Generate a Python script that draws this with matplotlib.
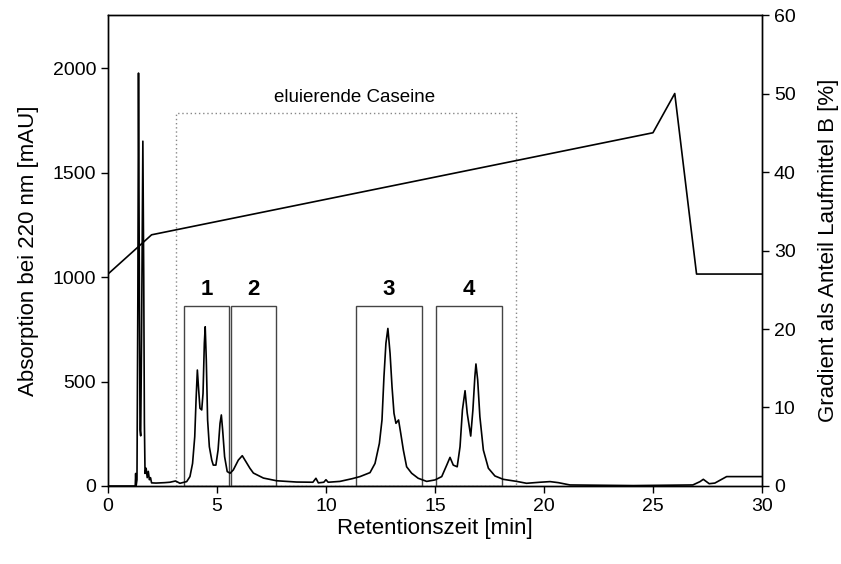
import matplotlib.pyplot as plt
from matplotlib.patches import Rectangle

plt.rcParams['font.family'] = ['Liberation Sans', 'DejaVu Sans']

# Chromatogramm (Zeit in min, Absorption in mAU)
zeit = [0.0, 1.0, 1.25, 1.27, 1.29, 1.33, 1.37, 1.40, 1.43, 1.47, 1.50, 1.54,
        1.60, 1.64, 1.67, 1.70, 1.75, 1.80, 1.85, 1.90, 1.95, 2.00, 2.2, 2.6,
        2.84, 3.1, 3.30, 3.61, 3.76, 3.88, 3.98, 4.04, 4.10, 4.16, 4.22, 4.30,
        4.36, 4.42, 4.46, 4.51, 4.57, 4.65, 4.76, 4.83, 4.95, 5.05, 5.14, 5.20,
        5.26, 5.35, 5.47, 5.60, 5.75, 5.98, 6.16, 6.33, 6.51, 6.67, 7.13, 7.74,
        8.65, 9.4, 9.54, 9.65, 9.9, 10.0, 10.1, 10.64, 11.2, 11.56, 12.02, 12.25,
        12.45, 12.57, 12.66, 12.75, 12.84, 12.94, 13.03, 13.12, 13.21, 13.33,
        13.43, 13.55, 13.70, 13.93, 14.23, 14.62, 15.0, 15.31, 15.54, 15.69,
        15.84, 16.02, 16.15, 16.26, 16.38, 16.48, 16.64, 16.74, 16.83, 16.88,
        16.96, 17.06, 17.22, 17.45, 17.75, 18.13, 18.75, 19.2, 19.82, 20.28,
        20.66, 21.19, 24.1, 26.83, 27.16, 27.31, 27.58, 27.84, 28.38, 30.0]
absorption = [0, 0, 0, 60, 0, 30, 900, 1976, 1200, 270, 240, 700,
              1650, 1000, 300, 60, 85, 40, 70, 30, 40, 15, 14, 16,
              18, 24, 13, 21, 45, 108, 236, 411, 555, 459, 372, 364,
              443, 683, 762, 603, 316, 188, 124, 100, 100, 172, 300, 340,
              268, 140, 69, 61, 77, 124, 145, 116, 85, 62, 38, 25,
              19, 18, 37, 15, 18, 30, 18, 22, 35, 45, 64, 108,
              204, 316, 523, 683, 754, 635, 475, 348, 300, 316,
              252, 172, 92, 61, 37, 22, 29, 45, 100, 137,
              100, 92, 188, 364, 456, 348, 239, 364, 523, 584,
              507, 332, 172, 85, 48, 32, 22, 13, 18, 21,
              16, 5, 2, 5, 21, 32, 11, 14, 45, 45]

# Gradient (Anteil Laufmittel B in %)
grad_zeit = [0, 2, 25, 26, 27, 30]
grad_b = [27, 32, 45, 50, 27, 27]

# Fraktionen 1-4 (Start, Ende in min)
frak_namen = ['1', '2', '3', '4']
frak_start = [3.49, 5.64, 11.36, 15.05]
frak_ende = [5.54, 7.69, 14.39, 18.09]
frak_hoehe = 861

# Bereich eluierende Caseine
casein_start, casein_ende, casein_hoehe = 3.1, 18.72, 1783

fig = plt.figure(figsize=(8.41, 5.64), dpi=100)
ax = fig.add_axes([0.1284, 0.1383, 0.7776, 0.8351])
ax2 = ax.twinx()

ax.plot(zeit, absorption, color='black', lw=1.2)
ax2.plot(grad_zeit, grad_b, color='black', lw=1.2)

for name, s, e in zip(frak_namen, frak_start, frak_ende):
    ax.add_patch(Rectangle((s, 0), e - s, frak_hoehe, fill=False,
                           edgecolor='#444444', lw=1.0))
    ax.text((s + e) / 2, frak_hoehe + 30, name, ha='center', va='bottom',
            fontsize=16, fontweight='bold')

ax.add_patch(Rectangle((casein_start, 0), casein_ende - casein_start, casein_hoehe,
                       fill=False, edgecolor='#888888', lw=1.0, ls=(0, (1, 2))))
ax.text(11.3, 1861, 'eluierende Caseine', ha='center', va='center', fontsize=13.5)

ax.set_xlim(0, 30)
ax.set_ylim(0, 2254)
ax2.set_ylim(0, 60)
ax.set_xticks([0, 5, 10, 15, 20, 25, 30])
ax.set_yticks([0, 500, 1000, 1500, 2000])
ax2.set_yticks([0, 10, 20, 30, 40, 50, 60])

for a in (ax, ax2):
    a.tick_params(direction='out', length=5, width=1, labelsize=14)
    for sp in a.spines.values():
        sp.set_linewidth(1.0)

ax.set_xlabel('Retentionszeit [min]', fontsize=16, labelpad=2)
ax.set_ylabel('Absorption bei 220 nm [mAU]', fontsize=16, labelpad=10)
ax2.set_ylabel('Gradient als Anteil Laufmittel B [%]', fontsize=16, labelpad=16)

fig.savefig('out.png', dpi=100)
